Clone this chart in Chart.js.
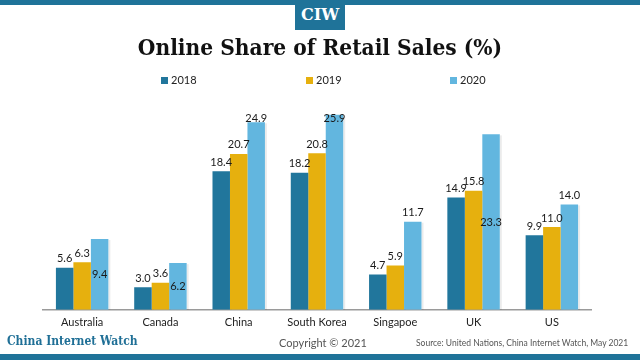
<!DOCTYPE html>
<html>
<head>
<meta charset="utf-8">
<script src="https://cdn.jsdelivr.net/npm/chart.js@4.4.1/dist/chart.umd.min.js"></script>
<style>
  html, body { margin:0; padding:0; background:#fff; }
  #wrap { position:relative; width:640px; height:360px; overflow:hidden; font-family: Lato, "Open Sans", sans-serif; }
  #c { position:absolute; left:0; top:0; }
  .abs { position:absolute; white-space:nowrap; }
  #topbar { left:0; top:0; width:640px; height:5px; background:#1f7399; }
  #logo { left:295px; top:0; width:50px; height:30px; background:#1f7399; color:#fff; font-family:"DejaVu Serif", serif; font-weight:bold; font-size:16px; line-height:30px; text-align:center; }
  #title { left:0; top:34px; width:640px; text-align:center; font-family:"DejaVu Serif Condensed","DejaVu Serif", serif; font-weight:bold; font-size:22.5px; color:#111; }
  #legend { left:0; top:73px; width:640px; height:14px; }
  .li { position:absolute; top:0; font-size:11px; color:#222; line-height:14px; }
  .li span.b { display:inline-block; width:7px; height:7px; margin-right:3px; vertical-align:0px; }
  #brand { left:7px; top:334px; font-family:"DejaVu Serif Condensed","DejaVu Serif", serif; font-weight:bold; font-size:12px; color:#1f6f96; }
  #copy { left:279px; top:336px; font-size:11px; color:#555; }
  #source { left:416px; top:338px; font-size:8.5px; color:#555; }
  #botbar { left:0; top:354px; width:640px; height:6px; background:#1f7399; }
</style>
</head>
<body>
<div id="wrap">
  <canvas id="c" width="640" height="360"></canvas>
  <div id="topbar" class="abs"></div>
  <div id="logo" class="abs">CIW</div>
  <div id="title" class="abs">Online Share of Retail Sales (%)</div>
  <div id="legend" class="abs"></div>
  <div id="brand" class="abs">China Internet Watch</div>
  <div id="copy" class="abs">Copyright © 2021</div>
  <div id="source" class="abs">Source: United Nations, China Internet Watch, May 2021</div>
  <div id="botbar" class="abs"></div>
</div>
<script>
const categories = ["Australia", "Canada", "China", "South Korea", "Singapoe", "UK", "US"];
const seriesNames = ["2018", "2019", "2020"];
const values2018 = [5.6, 3.0, 18.4, 18.2, 4.7, 14.9, 9.9];
const values2019 = [6.3, 3.6, 20.7, 20.8, 5.9, 15.8, 11.0];
const values2020 = [9.4, 6.2, 24.9, 25.9, 11.7, 23.3, 14.0];

const colors = ["#21769c", "#e6b00e", "#62b6df"];
// labels drawn at the middle of the bar (as in the reference)
const centeredLabels = { "2020": ["Australia", "Canada", "UK"] };

const seriesValues = [values2018, values2019, values2020];

// HTML legend
const legendX = [161, 306, 450];
const legendEl = document.getElementById('legend');
seriesNames.forEach((n, i) => {
  const d = document.createElement('div');
  d.className = 'li';
  d.style.left = legendX[i] + 'px';
  d.innerHTML = '<span class="b" style="background:' + colors[i] + '"></span>' + n;
  legendEl.appendChild(d);
});

const labelPlugin = {
  id: 'valueLabels',
  afterDatasetsDraw(chart) {
    const ctx = chart.ctx;
    const area = chart.chartArea;
    ctx.save();
    ctx.font = '11px Lato, sans-serif';
    ctx.fillStyle = '#1a1a1a';
    ctx.textAlign = 'center';
    ctx.textBaseline = 'middle';
    chart.data.datasets.forEach((ds, di) => {
      const meta = chart.getDatasetMeta(di);
      const centered = centeredLabels[ds.label] || [];
      meta.data.forEach((el, i) => {
        const v = ds.data[i];
        const txt = v.toFixed(1);
        let y;
        if (centered.includes(chart.data.labels[i])) {
          y = (el.y + el.base) / 2;
        } else {
          y = el.y - 9;
          if (y < area.top + 6) y = area.top + 6;
        }
        ctx.fillText(txt, el.x, y);
      });
    });
    ctx.restore();
  }
};

const shadowPlugin = {
  id: 'barShadow',
  beforeDatasetsDraw(chart) {
    const ctx = chart.ctx;
    ctx.save();
    ctx.fillStyle = 'rgba(0,0,0,0.08)';
    chart.data.datasets.forEach((ds, di) => {
      const meta = chart.getDatasetMeta(di);
      meta.data.forEach(el => {
        const right = el.x + el.width / 2;
        ctx.fillRect(right, el.y + 1, 2, el.base - el.y - 1);
      });
    });
    ctx.restore();
  }
};

new Chart(document.getElementById('c'), {
  type: 'bar',
  data: {
    labels: categories,
    datasets: seriesNames.map((n, i) => ({
      label: n,
      data: seriesValues[i],
      backgroundColor: colors[i],
      borderWidth: 0,
      categoryPercentage: 0.67,
      barPercentage: 1.0
    }))
  },
  options: {
    responsive: false,
    animation: false,
    devicePixelRatio: 1,
    layout: { padding: { left: 43, right: 49, top: 112, bottom: 25 } },
    plugins: { legend: { display: false }, tooltip: { enabled: false } },
    scales: {
      x: {
        grid: { display: false, drawTicks: false },
        border: { display: true, color: '#9a9a9a', width: 1.5 },
        ticks: { color: '#222', font: { family: 'Lato', size: 11 }, padding: 6, maxRotation: 0 }
      },
      y: {
        display: false,
        min: 0,
        max: 26.27
      }
    }
  },
  plugins: [shadowPlugin, labelPlugin]
});
</script>
</body>
</html>
